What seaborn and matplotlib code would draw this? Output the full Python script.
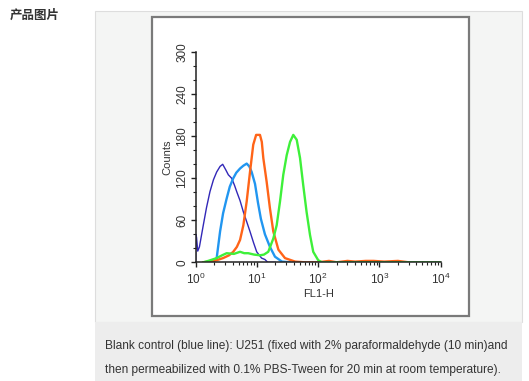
import numpy as np
import pandas as pd
import seaborn as sns
import matplotlib.pyplot as plt
from matplotlib.patches import Rectangle
from matplotlib.ticker import MultipleLocator, LogLocator

# histogram traces (FL1-H, Counts)
blank_x = [1.0, 1.0, 1.03, 1.08, 1.15, 1.33, 1.5, 1.71, 1.95, 2.2, 2.5, 2.76, 3.1, 3.41, 3.87, 4.3, 4.67,
           5.3, 6.0, 6.8, 7.7, 8.8, 9.9, 11.9, 13.5, 15, 20]
blank_y = [0, 40, 36, 16, 22, 53, 78, 101, 118, 129, 137, 140, 132, 125, 120, 110, 101,
           88, 72, 58, 44, 28, 15, 6, 4, 0, 0]

ctrl_x = [1.6, 2.0, 2.2, 2.5, 2.8, 3.2, 3.6, 4.1, 4.6, 5.3, 6.0, 6.8, 7.5, 8.2, 9.3, 10.4, 11.6,
          13.5, 16.3, 19.7, 25.6, 35]
ctrl_y = [0, 2, 6, 44, 70, 91, 108, 120, 128, 134, 138, 141, 137, 129, 112, 85, 62,
          40, 22, 8, 1, 0]

orange_x = [1.3, 1.7, 2.2, 2.8, 3.5, 4.1, 4.7, 5.3, 6.0, 6.8, 7.7, 8.7, 9.7, 11.2, 12.0, 12.7, 14.4,
            16.3, 18.5, 22.4, 28.7, 42, 60, 100, 150, 200, 300, 400, 600, 800, 1200, 2000, 3000]
orange_y = [0, 1, 3, 6, 10, 15, 22, 32, 53, 87, 129, 168, 182, 182, 172, 149, 115,
            77, 44, 18, 6, 1, 0, 0, 2, 0, 2, 1, 2, 2, 1, 2, 0]

green_x = [1.33, 1.6, 2.2, 2.7, 3.2, 4.2, 5.3, 6.2, 7.2, 9.0, 11.2, 13, 15.3, 18.5, 21, 23.8, 26.9,
           30.6, 34.7, 39.2, 44.6, 50.5, 57, 64.6, 73.5, 83, 100, 115, 10000]
green_y = [0, 2, 6, 10, 13, 12, 15, 13, 13, 11, 10, 11, 15, 34, 53, 87, 125,
           153, 172, 182, 175, 149, 110, 72, 39, 15, 3, 0, 0]

y_ticks = [0, 60, 120, 180, 240, 300]
caption = ["Blank control (blue line): U251 (fixed with 2% paraformaldehyde (10 min)and",
           "then permeabilized with 0.1% PBS-Tween for 20 min at room temperature)."]

frames = []
for name, xs, ys in [("blank", blank_x, blank_y), ("ctrl", ctrl_x, ctrl_y),
                     ("orange", orange_x, orange_y), ("green", green_x, green_y)]:
    frames.append(pd.DataFrame({"FL1-H": xs, "Counts": ys, "sample": name}))
df = pd.concat(frames, ignore_index=True)

palette = {"blank": "#3228b8", "ctrl": "#2196f0", "orange": "#ff6418", "green": "#3ef03a"}

sns.set_style("ticks")
plt.rcParams["font.family"] = ["Liberation Sans", "DejaVu Sans"]
plt.rcParams["mathtext.default"] = "regular"

W, H = 529, 381
fig = plt.figure(figsize=(W / 100, H / 100), dpi=100)


def box(x0, y0, x1, y1, **kw):
    fig.patches.append(Rectangle((x0 / W, 1 - y1 / H), (x1 - x0) / W, (y1 - y0) / H,
                                 transform=fig.transFigure, zorder=-5, **kw))


box(95, 11, 522, 322, facecolor="#f4f5f4", edgecolor="#dddddd", linewidth=0.8)
box(95, 322, 522, 381, facecolor="#ededed", edgecolor="none")
box(152, 17, 469, 316, facecolor="white", edgecolor="#7a7a7a", linewidth=1.6)

ax = fig.add_axes([195.7 / W, 1 - 262.3 / H, 245 / W, 210 / H])
ax.set_facecolor("none")
sns.lineplot(data=df, x="FL1-H", y="Counts", hue="sample", palette=palette,
             estimator=None, sort=False, legend=False, linewidth=1.7, ax=ax)
for line in ax.lines:
    if line.get_color() == palette["blank"]:
        line.set_linewidth(1.0)

ax.set_xscale("log")
ax.set_xlim(1, 1e4)
ax.set_ylim(0, 300)
ax.set_yticks(y_ticks)
ax.yaxis.set_minor_locator(MultipleLocator(20))
ax.xaxis.set_major_locator(LogLocator(base=10, numticks=10))
ax.xaxis.set_minor_locator(LogLocator(base=10, subs=np.arange(2, 10), numticks=50))
for s in ["top", "right"]:
    ax.spines[s].set_visible(False)
for s in ["left", "bottom"]:
    ax.spines[s].set_color("#222222")
    ax.spines[s].set_linewidth(1.1)
ax.tick_params(which="major", length=3.5, width=1, color="#222222", labelsize=8.5, labelcolor="#333333")
ax.tick_params(which="minor", length=2, width=0.8, color="#222222")
ax.tick_params(axis="y", labelrotation=90, pad=2)
for lbl in ax.get_yticklabels():
    lbl.set_va("center")
ax.set_xlabel("FL1-H", fontsize=8, color="#333333", labelpad=1)
ax.set_ylabel("Counts", fontsize=8, color="#333333", labelpad=3)

fig.text(10 / W, 1 - 15 / H, "产品图片", family=["Noto Sans CJK SC", "DejaVu Sans"],
         fontsize=9, weight="bold", color="#333333", va="center")
fig.text(105 / W, 1 - 346 / H, caption[0], family="Liberation Sans", fontsize=8.6,
         color="#333333", va="center")
fig.text(105 / W, 1 - 370 / H, caption[1], family="Liberation Sans", fontsize=8.6,
         color="#333333", va="center")

fig.savefig("out.png", dpi=100)
